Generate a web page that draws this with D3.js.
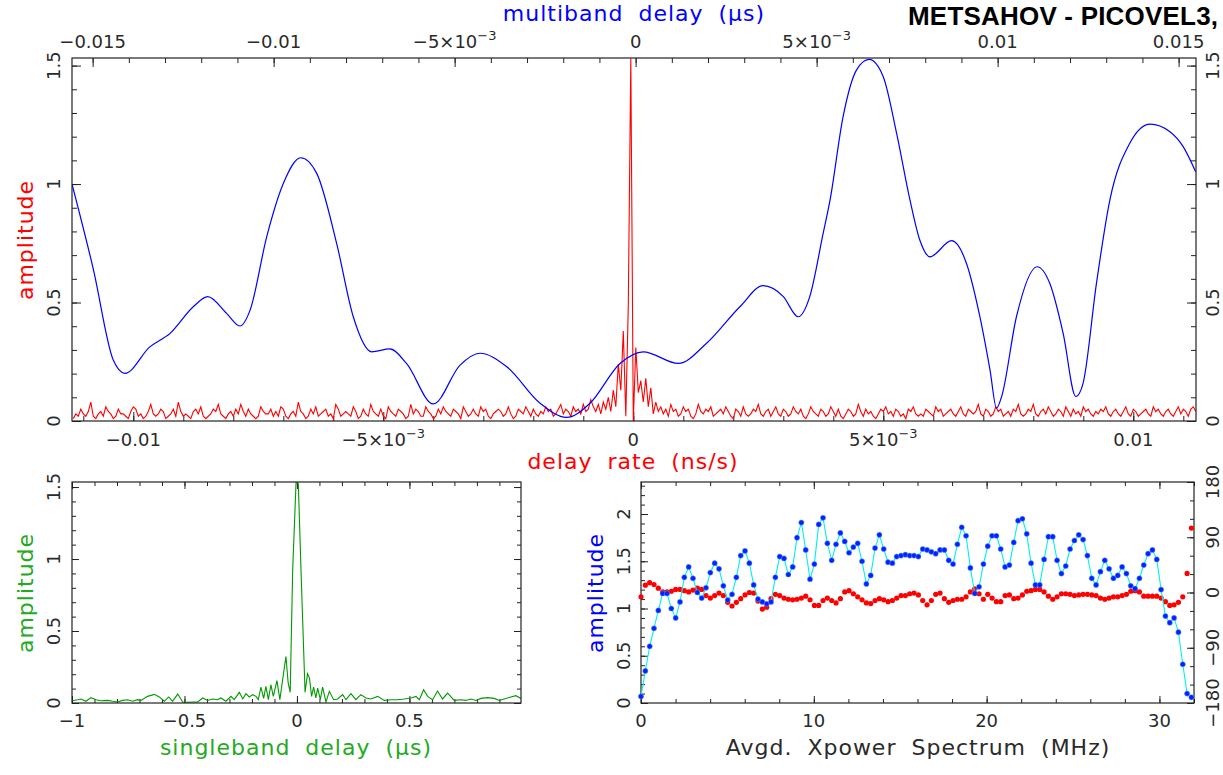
<!DOCTYPE html>
<html><head><meta charset="utf-8">
<script src="https://cdn.jsdelivr.net/npm/d3@7"></script>
<style>
body{margin:0;background:#fff;}
svg{display:block;}
text{font-family:"DejaVu Sans",sans-serif;}
</style></head>
<body>
<svg id="c" width="1223" height="775"></svg>
<script>
// ---------------- DATA ----------------
// Top panel, blue: multiband delay (µs) vs amplitude
const mbdDelay = [-0.01557,-0.01498,-0.01443,-0.01411,-0.01342,-0.01286,-0.01222,-0.01182,-0.01130,-0.01093,
  -0.01065,-0.01019,-0.00973,-0.00925,-0.00881,-0.00826,-0.00780,-0.00729,-0.00679,-0.00633,
  -0.00559,-0.00485,-0.00430,-0.00356,-0.00264,-0.00191,-0.00126,-0.00043,0.00021,0.00118,
  0.00196,0.00288,0.00352,0.00408,0.00449,0.00481,0.00518,0.00537,0.00573,0.00610,
  0.00645,0.00684,0.00721,0.00758,0.00785,0.00813,0.00873,0.00914,0.00951,0.00979,
  0.00997,0.01011,0.01052,0.01109,0.01144,0.01181,0.01216,0.01236,0.01273,0.01310,
  0.01365,0.01421,0.01476,0.01513,0.01547];
const mbdAmp = [1.00,0.640,0.257,0.201,0.313,0.370,0.482,0.525,0.454,0.401,
  0.468,0.778,1.003,1.111,1.045,0.750,0.440,0.292,0.304,0.243,
  0.072,0.236,0.286,0.229,0.075,0.015,0.075,0.243,0.292,0.243,
  0.328,0.482,0.571,0.525,0.440,0.525,0.792,0.932,1.284,1.481,
  1.526,1.453,1.214,0.932,0.764,0.693,0.761,0.665,0.440,0.215,
  0.054,0.103,0.440,0.651,0.581,0.370,0.103,0.159,0.581,0.932,
  1.172,1.253,1.221,1.157,1.052];

// Top panel, red: delay rate (ns/s) amplitude, regular grid
const rateStart = -0.0112, rateStep = 0.00005;
const rateAmp = [
 .01,.03,.02,.05,.03,.02,.04,.08,.02,.01, .03,.04,.02,.06,.04,.03,.01,.02,.05,.03,
 .03,.02,.01,.04,.06,.05,.02,.03,.01,.02, .04,.07,.03,.02,.03,.05,.04,.01,.02,.03,
 .05,.02,.08,.04,.02,.03,.02,.01,.04,.05, .03,.06,.02,.01,.02,.03,.05,.04,.07,.03,
 .02,.01,.03,.04,.02,.05,.03,.07,.04,.02, .05,.03,.02,.01,.02,.06,.04,.03,.03,.05,
 .02,.04,.02,.06,.05,.02,.01,.03,.04,.02, .08,.04,.03,.01,.02,.05,.03,.06,.02,.03,
 .04,.05,.02,.03,.01,.07,.05,.02,.03,.04, .03,.02,.06,.04,.01,.02,.05,.03,.02,.07,
 .04,.03,.02,.05,.02,.01,.06,.04,.03,.02, .05,.04,.03,.01,.02,.07,.03,.05,.04,.02,
 .02,.06,.04,.03,.01,.02,.05,.03,.06,.04, .03,.02,.05,.04,.03,.01,.06,.04,.02,.03,
 .05,.03,.02,.06,.04,.05,.02,.01,.03,.04, .05,.04,.02,.03,.06,.03,.01,.02,.05,.04,
 .03,.06,.04,.02,.05,.03,.02,.04,.03,.06, .04,.05,.02,.03,.05,.07,.03,.05,.04,.02,
 .06,.04,.05,.03,.07,.04,.05,.09,.06,.04, .07,.03,.08,.05,.10,.04,.13,.06,.24,.13,
 .38,.02,.49,1.53,.00,.31,.12,.17,.08,.18, .06,.14,.03,.08,.04,.06,.03,.05,.02,.07,
 .04,.05,.02,.03,.06,.04,.05,.02,.01,.03, .07,.04,.03,.05,.04,.06,.02,.03,.04,.05,
 .03,.06,.04,.02,.01,.05,.04,.02,.06,.03, .02,.03,.05,.04,.07,.03,.02,.04,.05,.02,
 .04,.06,.03,.02,.05,.04,.02,.03,.06,.04, .03,.05,.02,.01,.03,.06,.04,.03,.02,.05,
 .04,.02,.03,.06,.04,.02,.05,.02,.01,.03, .05,.04,.02,.03,.07,.04,.02,.05,.03,.04,
 .02,.01,.03,.05,.04,.06,.03,.04,.02,.05, .04,.02,.03,.01,.05,.04,.06,.03,.02,.03,
 .02,.05,.04,.03,.02,.06,.04,.05,.02,.03, .04,.05,.03,.02,.04,.06,.03,.02,.05,.04,
 .03,.04,.07,.03,.02,.05,.04,.02,.03,.06, .04,.05,.02,.03,.04,.02,.05,.04,.07,.03,
 .02,.03,.05,.04,.07,.03,.02,.04,.05,.03, .06,.04,.02,.03,.05,.04,.02,.06,.04,.02,
 .05,.03,.04,.02,.06,.04,.05,.03,.02,.04, .03,.05,.04,.06,.03,.02,.04,.05,.03,.02,
 .04,.06,.03,.02,.05,.04,.02,.03,.04,.05, .03,.02,.06,.04,.05,.03,.02,.04,.05,.03,
 .02,.04,.06,.03,.05,.04,.02,.05,.06,.04];

// Bottom-left, green: singleband delay (µs) vs amplitude
const sbdDelay = [-1.0,-0.975,-0.960,-0.938,-0.916,-0.893,-0.871,-0.841,-0.819,-0.797,
  -0.775,-0.753,-0.730,-0.708,-0.693,-0.664,-0.634,-0.612,-0.590,-0.570,
  -0.553,-0.530,-0.508,-0.486,-0.464,-0.441,-0.419,-0.397,-0.375,-0.353,
  -0.338,-0.316,-0.293,-0.279,-0.256,-0.241,-0.227,-0.212,-0.197,-0.182,
  -0.172,-0.160,-0.148,-0.138,-0.127,-0.116,-0.105,-0.089,-0.076,-0.049,
  -0.039,-0.030,-0.019,-0.004,0.006,0.018,0.036,0.047,0.056,0.065,
  0.074,0.084,0.092,0.104,0.114,0.129,0.144,0.163,0.181,0.203,
  0.218,0.240,0.262,0.284,0.307,0.329,0.359,0.388,0.418,0.447,
  0.477,0.507,0.529,0.544,0.563,0.581,0.603,0.625,0.647,0.670,
  0.699,0.729,0.751,0.773,0.796,0.818,0.847,0.877,0.899,0.921,
  0.951,0.973,0.996];
const sbdAmp = [0.016,0.023,0.028,0.012,0.037,0.023,0.016,0.018,0.012,0.007,
  0.018,0.023,0.012,0.023,0.018,0.046,0.060,0.042,0.012,0.042,
  0.012,0.062,0.007,0.005,0.007,0.007,0.035,0.018,0.028,0.023,
  0.035,0.012,0.046,0.023,0.074,0.028,0.065,0.042,0.058,0.046,
  0.023,0.111,0.032,0.115,0.023,0.127,0.046,0.155,0.023,0.323,
  0.139,0.074,0.924,1.530,1.524,0.924,0.074,0.203,0.173,0.046,
  0.111,0.035,0.104,0.023,0.111,0.007,0.081,0.023,0.028,0.058,
  0.023,0.065,0.023,0.058,0.035,0.028,0.046,0.018,0.023,0.023,
  0.028,0.035,0.046,0.023,0.092,0.046,0.023,0.083,0.028,0.069,
  0.018,0.023,0.018,0.028,0.018,0.032,0.037,0.032,0.018,0.028,
  0.042,0.051,0.032];

// Bottom-right: cross-power spectrum, amplitude and phase (deg) per channel
const freqStep = 0.2508;   // MHz between spectral points
const specAmp = [0.07,0.34,0.60,0.79,0.98,1.16,1.16,1.00,0.90,1.07,
  1.33,1.44,1.32,1.17,1.11,1.22,1.38,1.48,1.42,1.24,
  1.09,1.15,1.33,1.56,1.61,1.48,1.25,1.10,1.07,1.05,
  1.07,1.33,1.55,1.53,1.36,1.44,1.75,1.91,1.62,1.31,
  1.47,1.89,1.96,1.69,1.51,1.68,1.80,1.71,1.59,1.65,
  1.69,1.50,1.26,1.35,1.64,1.78,1.63,1.49,1.48,1.55,
  1.56,1.57,1.56,1.56,1.55,1.63,1.62,1.60,1.58,1.62,
  1.62,1.51,1.47,1.68,1.86,1.77,1.43,1.16,1.23,1.47,
  1.66,1.77,1.77,1.63,1.44,1.46,1.70,1.93,
  1.95,1.79,1.48,1.25,1.25,1.52,1.76,1.76,1.51,1.37,
  1.45,1.63,1.72,1.78,1.73,1.56,1.32,1.25,1.39,1.51,
  1.42,1.32,1.35,1.44,1.37,1.24,1.21,1.32,1.46,1.58,
  1.62,1.52,1.20,0.92,0.85,0.90,0.75,0.41,0.10,0.06];
const specPhase = [-7,12,16,13,7,1,1,2,5,5,
  3,1,4,7,5,-5,-9,-5,-1,-5,
  -16,-22,-16,-10,-4,0,-1,-14,-27,-24,
  -10,-3,-5,-9,-11,-12,-11,-9,-6,-12,
  -21,-21,-13,-9,-13,-17,-10,1,3,-2,
  -7,-12,-17,-18,-13,-10,-12,-15,-13,-9,
  -5,-5,-2,-1,-4,-13,-20,-13,-3,-1,
  -10,-16,-13,-11,-11,-7,1,6,-2,-11,
  -3,-9,-15,-15,-5,-4,-10,-9,
  -4,2,3,5,5,1,-6,-11,-7,-2,
  -2,-3,-5,-4,-3,-3,-4,-5,-9,-11,
  -9,-7,-7,-5,-3,2,3,1,-6,-6,
  -6,-6,-9,-15,-21,-20,-16,-7,31,105];

// Tick labels
const mbdTicks = [-0.015,-0.01,-0.005,0,0.005,0.01,0.015];
const mbdLabels = ["−0.015","−0.01","−5×10|−3","0","5×10|−3","0.01","0.015"];
const rateTicks = [-0.01,-0.005,0,0.005,0.01];
const rateLabels = ["−0.01","−5×10|−3","0","5×10|−3","0.01"];
const ampTicks = [0,0.5,1,1.5];
const ampLabels = ["0","0.5","1","1.5"];
const sbdTicks = [-1,-0.5,0,0.5];
const sbdLabels = ["−1","−0.5","0","0.5"];
const freqTicks = [0,10,20,30];
const freqLabels = ["0","10","20","30"];
const specAmpTicks = [0,0.5,1,1.5,2];
const specAmpLabels = ["0","0.5","1","1.5","2"];
const phaseTicks = [-180,-90,0,90,180];
const phaseLabels = ["−180","−90","0","90","180"];

// ---------------- DRAW ----------------
const svg = d3.select("#c");
const INK = "#222", TXT = "#2a2a2a";
const RED = "#ff0000", BLUE = "#0000ff", GREEN = "#009900", GREENTXT = "#22aa22", CYAN = "#00f0f0";

const P1 = {l:72, r:1196, t:58, b:421};
const P2 = {l:72, r:521, t:482, b:703};
const P3 = {l:641, r:1194, t:482, b:703};

const xMbd = d3.scaleLinear().domain([-0.01557, 0.01548]).range([P1.l, P1.r]);
const xRate = d3.scaleLinear().domain([-0.011226, 0.011254]).range([P1.l, P1.r]);
const yTop = d3.scaleLinear().domain([0, 1.532]).range([P1.b, P1.t]);
const xSbd = d3.scaleLinear().domain([-1, 0.996]).range([P2.l, P2.r]);
const ySbd = d3.scaleLinear().domain([0, 1.535]).range([P2.b, P2.t]);
const xFreq = d3.scaleLinear().domain([0, 32]).range([P3.l, P3.r]);
const ySpec = d3.scaleLinear().domain([0, 2.339]).range([P3.b, P3.t]);
const yPhase = d3.scaleLinear().domain([-180, 180]).range([P3.b, P3.t]);

function minorVals(scale, step){
  const [a,b] = scale.domain();
  const out = [];
  for (let v = Math.ceil(a/step - 1e-9)*step; v <= b + 1e-12; v += step) out.push(+v.toFixed(8));
  return out;
}
function tickAxis(axisFn, scale, pos, vals, size){
  const g = svg.append("g");
  if (axisFn === d3.axisBottom || axisFn === d3.axisTop) g.attr("transform", `translate(0,${pos})`);
  else g.attr("transform", `translate(${pos},0)`);
  g.call(axisFn(scale).tickValues(vals).tickSize(size).tickFormat(""));
  g.select(".domain").remove();
  g.selectAll("line").attr("stroke", INK).attr("stroke-width", 1);
  g.selectAll("text").remove();
}
function frame(P){
  svg.append("rect").attr("x", P.l).attr("y", P.t).attr("width", P.r-P.l).attr("height", P.b-P.t)
    .attr("fill","none").attr("stroke", INK).attr("stroke-width", 1.2);
}
function clip(id, P){
  svg.append("clipPath").attr("id", id).append("rect")
    .attr("x", P.l).attr("y", P.t-1).attr("width", P.r-P.l).attr("height", P.b-P.t+1);
}
function label(x, y, str, opts={}){
  const t = svg.append("text").attr("x", x).attr("y", y)
    .attr("text-anchor", "middle").attr("fill", opts.fill || TXT)
    .attr("font-size", opts.size || 18);
  if (opts.rot) t.attr("x", 0).attr("y", 0).attr("transform", `translate(${x},${y}) rotate(-90)`);
  if (opts.ls) t.attr("letter-spacing", opts.ls);
  if (opts.ws) t.attr("word-spacing", opts.ws);
  const parts = str.split("|");
  t.append("tspan").text(parts[0]);
  if (parts[1]) t.append("tspan").attr("font-size", (opts.size||18)*0.72).attr("dy", -8).text(parts[1]);
  return t;
}

clip("c1", P1); clip("c2", P2); clip("c3", P3);

// ---- Top panel ----
tickAxis(d3.axisTop, xMbd, P1.t, minorVals(xMbd, 0.001), -5);
tickAxis(d3.axisTop, xMbd, P1.t, mbdTicks, -9);
tickAxis(d3.axisBottom, xRate, P1.b, minorVals(xRate, 0.001), -5);
tickAxis(d3.axisBottom, xRate, P1.b, rateTicks, -9);
tickAxis(d3.axisLeft, yTop, P1.l, minorVals(yTop, 0.1), -5);
tickAxis(d3.axisLeft, yTop, P1.l, ampTicks, -9);
tickAxis(d3.axisRight, yTop, P1.r, minorVals(yTop, 0.1), -5);
tickAxis(d3.axisRight, yTop, P1.r, ampTicks, -9);

const rateData = rateAmp.map((a,i)=>({x: rateStart + i*rateStep, y: a}));
svg.append("path").datum(rateData).attr("clip-path","url(#c1)")
  .attr("fill","none").attr("stroke", RED).attr("stroke-width", 1.1)
  .attr("d", d3.line().x(d=>xRate(d.x)).y(d=>yTop(d.y)));
const mbdData = mbdDelay.map((d,i)=>({x:d, y:mbdAmp[i]}));
svg.append("path").datum(mbdData).attr("clip-path","url(#c1)")
  .attr("fill","none").attr("stroke", BLUE).attr("stroke-width", 1.2)
  .attr("d", d3.line().curve(d3.curveMonotoneX).x(d=>xMbd(d.x)).y(d=>yTop(d.y)));
frame(P1);

mbdTicks.forEach((v,i)=>label(xMbd(v), 48, mbdLabels[i]));
rateTicks.forEach((v,i)=>label(xRate(v), 446, rateLabels[i]));
ampTicks.forEach((v,i)=>{ label(60, yTop(v), ampLabels[i], {rot:true}); label(1219, yTop(v), ampLabels[i], {rot:true}); });
label(634, 21, "multiband delay (µs)", {fill: BLUE, size: 22, ls: 1, ws: 7});
label(633, 469, "delay rate (ns/s)", {fill: RED, size: 22, ls: 1, ws: 7});
label(33, 240, "amplitude", {fill: RED, size: 22, ls: 1, rot: true});
svg.append("text").attr("x", 908).attr("y", 25).attr("font-size", 26).attr("font-weight", "bold")
  .attr("letter-spacing", 0.2)
  .style("font-family", "'Liberation Sans', Arial, sans-serif").attr("fill", "#000")
  .text("METSAHOV - PICOVEL3,");

// ---- Bottom-left panel ----
tickAxis(d3.axisTop, xSbd, P2.t, minorVals(xSbd, 0.1), -4);
tickAxis(d3.axisTop, xSbd, P2.t, sbdTicks, -7);
tickAxis(d3.axisBottom, xSbd, P2.b, minorVals(xSbd, 0.1), -4);
tickAxis(d3.axisBottom, xSbd, P2.b, sbdTicks, -7);
tickAxis(d3.axisLeft, ySbd, P2.l, minorVals(ySbd, 0.1), -4);
tickAxis(d3.axisLeft, ySbd, P2.l, ampTicks, -7);
tickAxis(d3.axisRight, ySbd, P2.r, minorVals(ySbd, 0.1), -4);
tickAxis(d3.axisRight, ySbd, P2.r, ampTicks, -7);
const sbdData = sbdDelay.map((d,i)=>({x:d, y:sbdAmp[i]}));
svg.append("path").datum(sbdData).attr("clip-path","url(#c2)")
  .attr("fill","none").attr("stroke", GREEN).attr("stroke-width", 1.1)
  .attr("d", d3.line().x(d=>xSbd(d.x)).y(d=>ySbd(d.y)));
frame(P2);
sbdTicks.forEach((v,i)=>label(xSbd(v), 727, sbdLabels[i]));
ampTicks.forEach((v,i)=>label(60, ySbd(v), ampLabels[i], {rot:true}));
label(296, 755, "singleband delay (µs)", {fill: GREENTXT, size: 22, ls: 1, ws: 7});
label(33, 593, "amplitude", {fill: GREENTXT, size: 22, ls: 1, rot: true});

// ---- Bottom-right panel ----
tickAxis(d3.axisTop, xFreq, P3.t, minorVals(xFreq, 2), -4);
tickAxis(d3.axisTop, xFreq, P3.t, freqTicks, -7);
tickAxis(d3.axisBottom, xFreq, P3.b, minorVals(xFreq, 2), -4);
tickAxis(d3.axisBottom, xFreq, P3.b, freqTicks, -7);
tickAxis(d3.axisLeft, ySpec, P3.l, minorVals(ySpec, 0.1), -4);
tickAxis(d3.axisLeft, ySpec, P3.l, specAmpTicks, -7);
tickAxis(d3.axisRight, yPhase, P3.r, minorVals(yPhase, 30), -4);
tickAxis(d3.axisRight, yPhase, P3.r, phaseTicks, -7);
frame(P3);

const spec = specAmp.map((a,i)=>({f: i*freqStep, a: a, p: specPhase[i]}));
svg.append("g").selectAll("circle").data(spec).join("circle")
  .attr("cx", d=>xFreq(d.f)).attr("cy", d=>yPhase(d.p)).attr("r", 2.6).attr("fill", RED);
svg.append("path").datum(spec).attr("fill","none").attr("stroke", CYAN).attr("stroke-width", 1.1)
  .attr("d", d3.line().x(d=>xFreq(d.f)).y(d=>ySpec(d.a)));
svg.append("g").selectAll("circle").data(spec).join("circle")
  .attr("cx", d=>xFreq(d.f)).attr("cy", d=>ySpec(d.a)).attr("r", 2.6).attr("fill", "#0a1eff")
  .attr("stroke", "#4aa8ff").attr("stroke-width", 0.5);

freqTicks.forEach((v,i)=>label(xFreq(v), 727, freqLabels[i]));
specAmpTicks.forEach((v,i)=>label(630, ySpec(v), specAmpLabels[i], {rot:true}));
phaseTicks.forEach((v,i)=>label(1219, yPhase(v), phaseLabels[i], {rot:true}));
label(918, 755, "Avgd. Xpower Spectrum (MHz)", {size: 22, ls: 1, ws: 7});
label(603, 593, "amplitude", {fill: BLUE, size: 22, ls: 1, rot: true});
</script>
</body></html>
